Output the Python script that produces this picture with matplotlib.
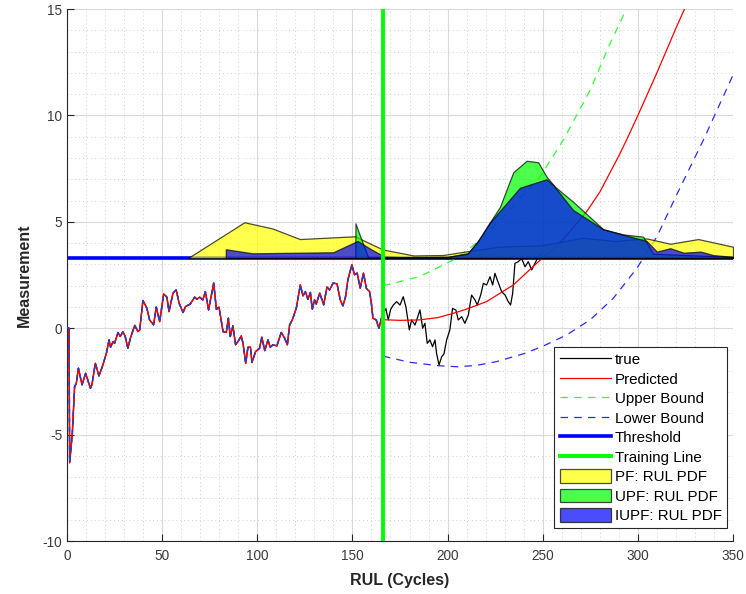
import matplotlib
matplotlib.use("Agg")
import matplotlib.pyplot as plt
from matplotlib.ticker import MultipleLocator

plt.rcParams['font.family'] = ['Liberation Sans', 'DejaVu Sans']
plt.rcParams['axes.unicode_minus'] = False

# ---- data ----
meas_x = [0, 1.05, 1.4, 2.8, 4.0, 4.9, 6.0, 7.9, 9.8, 12.3, 13.1, 14.9, 16.8, 18.6, 20.7, 22.1, 22.9,
          24.2, 25.0, 26.8, 28.0, 29.4, 30.6, 32.0, 33.3, 35.6, 37.3, 38.2, 39.9, 42.0, 43.4, 45.5,
          46.9, 48.7, 50.8, 52.5, 53.6, 55.7, 57.4, 58.9, 61.0, 62.3, 64.8, 67.1, 68.3, 69.7, 71.4,
          72.7, 74.4, 77.1, 78.5, 79.9, 82.0, 83.7, 84.8, 85.8, 87.2, 88.6, 90.2, 91.6, 92.5, 93.9,
          95.1, 96.4, 97.2, 99.1, 101.2, 102.4, 103.9, 105.6, 106.8, 108.2, 110.3, 112.6, 114.4,
          115.8, 117.0, 118.4, 120.5, 122.6, 124.0, 125.3, 126.6, 127.9, 128.9, 130.1, 131.0, 132.8,
          134.9, 136.6, 138.0, 139.8, 141.9, 143.6, 145.0, 146.4, 147.6, 149.7, 151.1, 152.5, 154.1,
          155.8, 157.3, 159.0, 159.9, 160.8, 162.5, 163.9, 164.8, 165.7]
meas_y = [0, 0, -6.32, -4.94, -2.74, -2.59, -1.88, -2.66, -2.12, -2.82, -2.66, -1.65, -2.24, -1.80,
          -1.18, -0.55, -0.89, -0.63, -0.71, -0.20, -0.39, -0.16, -0.39, -0.94, -0.47, 0.13, -0.16,
          -0.08, 1.30, 0.94, 0.39, 0.16, 0.99, 0.31, 1.61, 1.46, 0.78, 1.65, 1.80, 1.18, 0.74, 1.02,
          1.14, 1.46, 1.36, 1.46, 1.33, 1.72, 0.86, 2.12, 0.89, 0.99, -0.16, -0.20, 0.47, -0.39, 0.11,
          -0.78, -0.58, -0.36, -0.71, -1.65, -0.89, -0.89, -1.61, -1.10, -0.94, -0.42, -1.05, -0.55,
          -0.89, -0.78, -0.83, -0.20, -0.47, -0.78, 0.16, 0.39, 0.94, 2.04, 1.52, 1.72, 1.36, 1.68,
          0.89, 1.33, 1.14, 1.65, 1.10, 1.93, 1.80, 2.12, 2.09, 1.33, 1.05, 1.49, 2.27, 2.98, 2.51,
          2.59, 1.88, 2.59, 1.88, 1.72, 1.21, 0.47, 0.39, 0.00, 0.31, 0.63]

true_x = [165.7, 167.6, 168.8, 170.1, 171.5, 173.2, 175.0, 176.7, 178.1, 179.9, 181.1, 182.9, 185.5,
          186.9, 188.1, 189.3, 190.7, 192.1, 193.4, 194.2, 195.5, 196.9, 198.1, 199.5, 201.2, 202.6,
          204.4, 205.6, 207.4, 209.1, 210.9, 212.6, 214.4, 215.6, 217.4, 218.8, 220.5, 222.3, 223.7,
          224.9, 226.1, 228.4, 230.2, 231.9, 233.1, 234.2, 235.4, 237.2, 238.9, 240.7, 242.4, 244.2,
          245.9, 247.7, 249.5]
true_y = [0.63, 0.92, 0.39, 0.89, 1.09, 1.25, 1.09, 1.48, 1.01, -0.08, 0.39, 0.15, 0.86, 0.00, 0.23,
          -0.71, -0.55, -0.87, -0.55, -1.18, -1.73, -1.34, -1.21, -0.55, -0.08, 0.93, 0.85, 0.39,
          0.54, 0.23, 0.62, 1.56, 1.33, 1.09, 1.56, 2.11, 2.03, 2.42, 2.03, 2.58, 2.27, 1.72, 1.56,
          1.25, 1.09, 1.64, 3.05, 3.13, 3.28, 2.89, 3.13, 2.74, 3.05, 3.36, 3.5]

pred_x = [166, 175, 185, 195, 203, 210, 220.5, 234.5, 246.8, 260, 273, 280, 290, 294, 300, 310, 320, 326]
pred_y = [0.4, 0.37, 0.39, 0.5, 0.7, 0.9, 1.25, 2.03, 3.05, 4.1, 5.47, 6.4, 8.1, 8.84, 10.0, 12.0, 14.1, 15.3]

upper_x = [166, 170, 185, 195, 205, 215, 227, 235, 248.6, 260.8, 275, 285, 295]
upper_y = [2.0, 2.08, 2.42, 2.85, 3.3, 4.0, 5.0, 5.8, 7.12, 8.84, 11.2, 13.3, 15.2]

lower_x = [166, 180, 195, 205, 215, 225.7, 240, 250, 262.5, 275, 287, 299.4, 310, 320, 334.4, 350]
lower_y = [-1.31, -1.6, -1.76, -1.81, -1.75, -1.57, -1.2, -0.85, -0.32, 0.4, 1.4, 2.81, 4.3, 6.2, 8.84, 11.9]

threshold = 3.3
training_cycle = 166

pf_x = [63.6, 93.2, 107.9, 122.4, 151.3, 165.9, 182, 197.6, 209, 227, 250, 271, 288, 304.6, 317, 331.7, 350]
pf_y = [3.3, 4.98, 4.69, 4.19, 4.32, 3.7, 3.42, 3.44, 3.6, 3.83, 3.9, 4.25, 4.1, 4.22, 3.97, 4.19, 3.83]

upf_x = [151.5, 151.6, 154.8, 158.3, 200, 210.7, 216, 222, 227.5, 234.5, 241.5, 247.6, 252, 256.4,
         266, 281.8, 292.3, 302.8, 308, 350]
upf_y = [3.3, 4.93, 4.14, 3.32, 3.35, 3.53, 4.1, 4.94, 5.7, 7.33, 7.87, 7.8, 7.12, 6.65,
         5.94, 4.65, 4.41, 4.3, 3.5, 3.35]

iupf_x = [83.4, 83.5, 97.5, 139.9, 152.7, 160, 167, 180, 200, 210.5, 216, 222, 238, 252, 255.5,
          266, 281.8, 292, 304.6, 310, 317, 324, 333, 339.5, 350]
iupf_y = [3.3, 3.71, 3.52, 3.57, 4.1, 3.7, 3.36, 3.33, 3.35, 3.5, 4.1, 4.94, 6.6, 7.0, 6.73,
          5.55, 4.65, 4.4, 4.1, 3.6, 3.76, 3.55, 3.6, 3.44, 3.35]

# ---- figure ----
fig = plt.figure(figsize=(7.46, 5.94), dpi=100)
ax = fig.add_axes([0.0898, 0.0892, 0.8928, 0.8956])

ax.plot(meas_x, meas_y, color='black', lw=0.9, zorder=3)
ax.plot(meas_x, meas_y, color='red', lw=1.1, zorder=3.1)
ax.plot(meas_x, meas_y, color='#1f3fd0', lw=1.1, ls=(0, (3, 3)), zorder=3.2)

l_true, = ax.plot(true_x, true_y, color='black', lw=0.9, label='true', zorder=3)
l_pred, = ax.plot(pred_x, pred_y, color='red', lw=0.9, label='Predicted', zorder=3)
l_up, = ax.plot(upper_x, upper_y, color='#33ff33', lw=0.9, ls=(0, (6, 5)), label='Upper Bound', zorder=3)
l_lo, = ax.plot(lower_x, lower_y, color='#2a2aff', lw=0.9, ls=(0, (6, 5)), label='Lower Bound', zorder=3)
l_th = ax.axhline(threshold, color='#0000ff', lw=2.6, label='Threshold', zorder=2.5)
l_tr = ax.axvline(training_cycle, color='#00ff00', lw=2.8, label='Training Line', zorder=6)

f_pf = ax.fill_between(pf_x, threshold, pf_y, facecolor='yellow', edgecolor='black', lw=0.9,
                       alpha=0.7, label='PF: RUL PDF', zorder=4)
f_upf = ax.fill_between(upf_x, threshold, upf_y, facecolor='#00ff00', edgecolor='black', lw=0.9,
                        alpha=0.7, label='UPF: RUL PDF', zorder=4.1)
f_iupf = ax.fill_between(iupf_x, threshold, iupf_y, facecolor='#0000ff', edgecolor='black', lw=0.9,
                         alpha=0.7, label='IUPF: RUL PDF', zorder=4.2)

ax.set_xlim(0, 350)
ax.set_ylim(-10, 15)
ax.xaxis.set_major_locator(MultipleLocator(50))
ax.xaxis.set_minor_locator(MultipleLocator(10))
ax.yaxis.set_major_locator(MultipleLocator(5))
ax.yaxis.set_minor_locator(MultipleLocator(1))
ax.grid(True, which='major', color='#d9d9d9', lw=0.8)
ax.grid(True, which='minor', color='#d0d0d0', lw=0.7, ls=(0, (1, 3)))
ax.set_axisbelow(True)
ax.tick_params(which='both', direction='in', colors='#262626', labelcolor='#3a3a3a', labelsize=9.8)
ax.tick_params(which='minor', length=0)
ax.tick_params(which='major', length=5)
ax.tick_params(axis='x', pad=6)
for s in ['top', 'right']:
    ax.spines[s].set_visible(False)
for s in ['left', 'bottom']:
    ax.spines[s].set_color('#262626')

ax.set_xlabel('RUL (Cycles)', fontsize=11.5, fontweight='bold', color='#262626', labelpad=7)
ax.set_ylabel('Measurement', fontsize=11.5, fontweight='bold', color='#262626', labelpad=8)

leg = ax.legend(handles=[l_true, l_pred, l_up, l_lo, l_th, l_tr, f_pf, f_upf, f_iupf],
                loc='lower right', bbox_to_anchor=(0.996, 0.018), fontsize=10.9, fancybox=False,
                framealpha=1, edgecolor='#262626', handlelength=3.4, handleheight=1.0,
                labelspacing=0.3, borderpad=0.35, handletextpad=0.25, borderaxespad=0.2)
leg.get_frame().set_linewidth(0.8)
leg.set_zorder(10)

fig.savefig('out.png', dpi=100)
